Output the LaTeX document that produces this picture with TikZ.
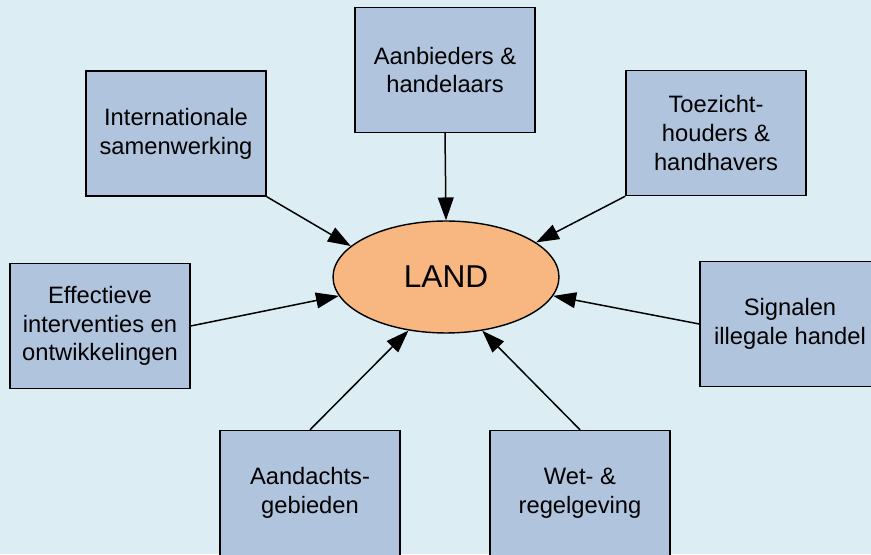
\documentclass[tikz,border=0pt]{standalone}
\usepackage{fontspec}
\setmainfont{Liberation Sans}
\usepackage{tikz}
\usepackage{xcolor}
\usetikzlibrary{arrows.meta,shapes.geometric}
\definecolor{bgblue}{HTML}{DCEEF4}
\definecolor{boxblue}{HTML}{B0C4DE}
\definecolor{landorange}{HTML}{F8B780}

\begin{document}
\begin{tikzpicture}[x=0.02cm,y=0.02cm,>={Triangle[length=13pt,width=9pt]},
  box/.style={draw,line width=0.8pt,fill=boxblue,minimum width=3.6cm,minimum height=2.5cm,
    align=center,font=\fontsize{13.5}{16.4}\selectfont},
  hub/.style={draw,line width=0.8pt,ellipse,fill=landorange,minimum width=4.52cm,
    minimum height=2.24cm,font=\fontsize{18}{20}\selectfont},
  link/.style={->,line width=0.85pt}]
  \fill[bgblue] (0,0) rectangle (871,554);
  \useasboundingbox (0,0) rectangle (871,554);
  \clip (0,0) rectangle (871,554);

  \node[hub] (land) at (446,277) {LAND};

  \foreach \n/\x/\y/\t in {
      intl/176/420.5/{Internationale\\samenwerking},
      aanb/445/484/{Aanbieders \&\\handelaars},
      toez/716/421/{Toezicht-\\houders \&\\handhavers},
      eff/100/228/{Effectieve\\interventies en\\ontwikkelingen},
      sig/790/230/{Signalen\\illegale handel},
      aand/310/61/{Aandachts-\\gebieden},
      wet/580/61/{Wet- \&\\regelgeving}}
    \node[box] (\n) at (\x,\y) {\t};

  \draw[link] (intl.south east) -- (land.162);
  \draw[link] (aanb.south) -- (land.north);
  \draw[link] (toez.south west) -- (land.21);
  \draw[link] (eff.east) -- (land.190);
  \draw[link] (sig.west) -- (land.350);
  \draw[link] (aand.north) -- (land.235);
  \draw[link] (wet.north) -- (land.304);
\end{tikzpicture}
\end{document}
